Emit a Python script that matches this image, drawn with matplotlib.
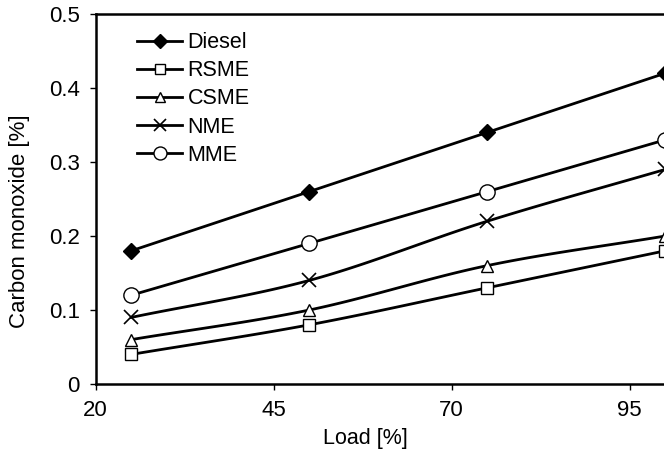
import matplotlib
matplotlib.use("Agg")
import matplotlib.pyplot as plt
import numpy as np

plt.rcParams['font.family'] = ['Liberation Sans', 'DejaVu Sans']

# data
load = [25, 50, 75, 100]
diesel = [0.18, 0.26, 0.34, 0.42]
rsme = [0.04, 0.08, 0.13, 0.18]
csme = [0.06, 0.10, 0.16, 0.20]
nme = [0.09, 0.14, 0.22, 0.29]
mme = [0.12, 0.19, 0.26, 0.33]

x_ticks = [20, 45, 70, 95]
y_ticks = [0, 0.1, 0.2, 0.3, 0.4, 0.5]


def smooth(x, y, n=30):
    # Catmull-Rom curve through the points, like Excel's smoothed line
    x = np.asarray(x, float)
    y = np.asarray(y, float)
    px = np.concatenate([[2 * x[0] - x[1]], x, [2 * x[-1] - x[-2]]])
    py = np.concatenate([[2 * y[0] - y[1]], y, [2 * y[-1] - y[-2]]])
    xs, ys = [], []
    t = np.linspace(0, 1, n)
    for i in range(1, len(px) - 2):
        for p, out in ((px, xs), (py, ys)):
            p0, p1, p2, p3 = p[i - 1], p[i], p[i + 1], p[i + 2]
            out.extend(0.5 * (2 * p1 + (-p0 + p2) * t
                              + (2 * p0 - 5 * p1 + 4 * p2 - p3) * t ** 2
                              + (-p0 + 3 * p1 - 3 * p2 + p3) * t ** 3))
    return xs, ys


fig = plt.figure(figsize=(6.64, 4.5), dpi=100)
ax = fig.add_axes([95.7 / 664, 66 / 450, 712 / 664, 370 / 450])

series = [
    ('Diesel', diesel, dict(marker='D', markerfacecolor='black', markersize=8)),
    ('RSME', rsme, dict(marker='s', markerfacecolor='white', markersize=9)),
    ('CSME', csme, dict(marker='^', markerfacecolor='white', markersize=9)),
    ('NME', nme, dict(marker='x', markersize=10, markeredgewidth=1.2)),
    ('MME', mme, dict(marker='o', markerfacecolor='white', markersize=11)),
]

for name, vals, style in series:
    sx, sy = smooth(load, vals)
    ax.plot(sx, sy, color='black', lw=2, zorder=2)
    ax.plot(load, vals, linestyle='none', color='black',
            markeredgecolor='black', zorder=3, **style)
    leg_style = dict(style)
    leg_style['markersize'] = style['markersize'] * 0.85
    ax.plot([], [], color='black', lw=2, label=name,
            markeredgecolor='black', **leg_style)

ax.set_xlim(20, 120)
ax.set_ylim(0, 0.5)
ax.set_xticks(x_ticks)
ax.set_yticks(y_ticks)
ax.set_yticklabels(['0', '0.1', '0.2', '0.3', '0.4', '0.5'])
ax.tick_params(direction='out', length=4.5, width=1, labelsize=16, pad=7)
for s in ax.spines.values():
    s.set_linewidth(1.8)

ax.set_xlabel('Load [%]', fontsize=15.5)
ax.xaxis.set_label_coords((365 - 95.7) / 712, -0.119)
ax.set_ylabel('Carbon monoxide [%]', fontsize=16)
ax.yaxis.set_label_coords((30 - 95.7) / 712, (384 - 221.5) / 370)

ax.legend(loc='upper left', bbox_to_anchor=(0.046, 0.974), frameon=False,
          fontsize=15.5, handlelength=2.1, handletextpad=0.25, labelspacing=0.33,
          borderaxespad=0)

fig.savefig('out.png', dpi=100)
